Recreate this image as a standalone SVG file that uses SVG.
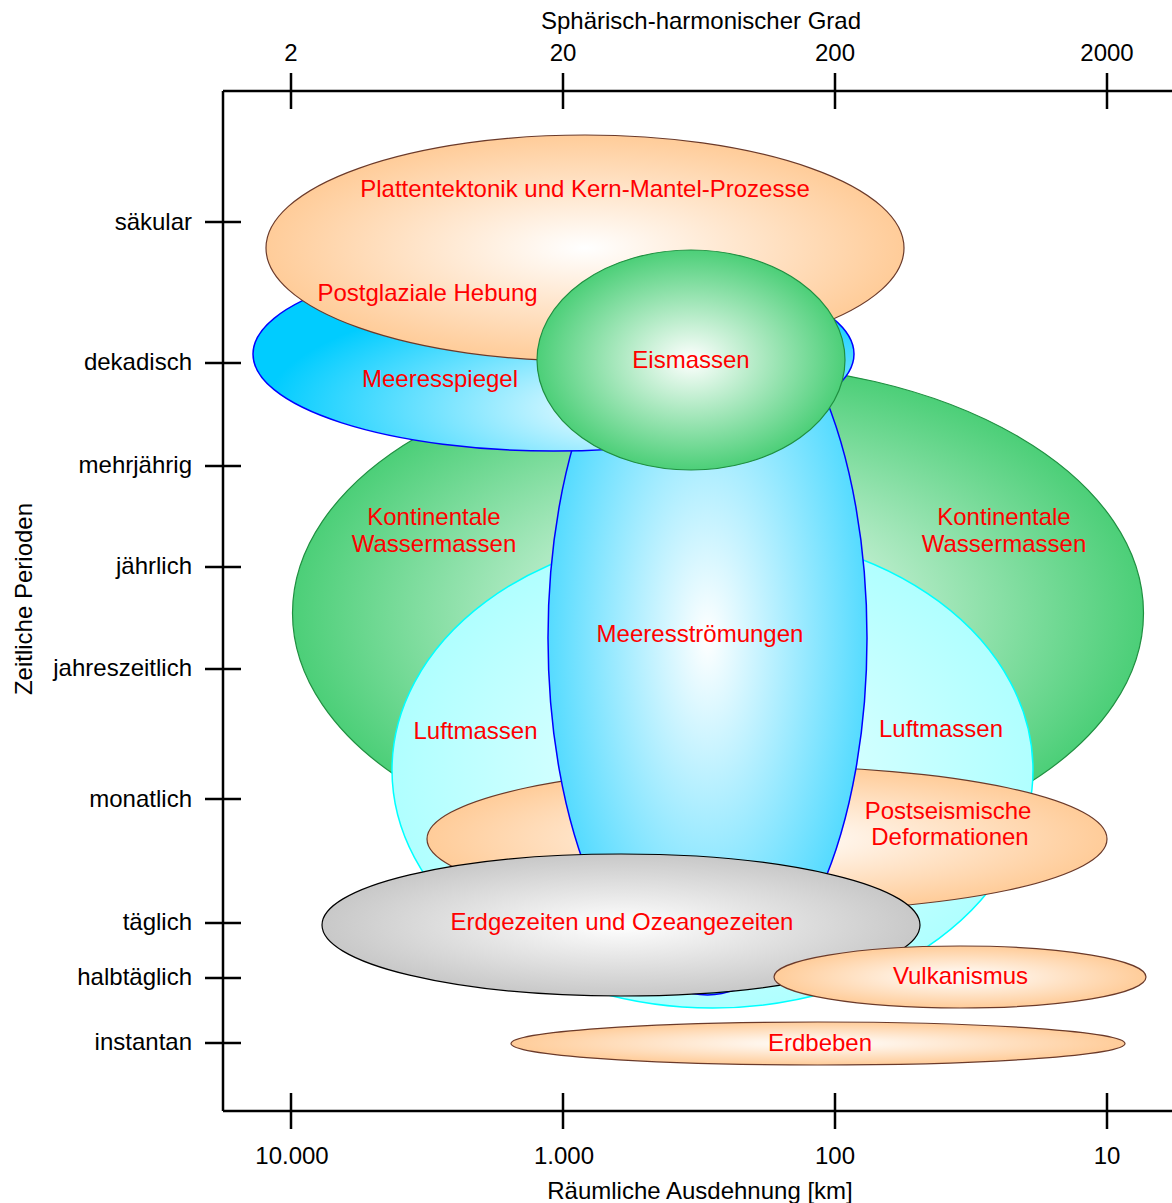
<svg xmlns="http://www.w3.org/2000/svg" width="1172" height="1203" viewBox="0 0 1172 1203">
<style>
text{font-family:"Liberation Sans",Arial,sans-serif;font-size:24px}
.ax{fill:#000}
.lb{fill:#ff0000;text-anchor:middle}
.ln{stroke:#000;stroke-width:2.5;fill:none}
.peach{stroke:#6b3a2a;stroke-width:1.2}
.blue{stroke:#0000ff;stroke-width:1.5}
.green{stroke:#1f8f40;stroke-width:1.2}
.cyan{stroke:#00ffff;stroke-width:1.5}
.gray{stroke:#000;stroke-width:1.2}
</style>
<defs>
<radialGradient id="gPeach" cx="50%" cy="50%" r="50%"><stop offset="0" stop-color="#ffffff"/><stop offset="1" stop-color="#ffcc99"/></radialGradient>
<radialGradient id="gGreen" cx="50%" cy="50%" r="50%"><stop offset="0" stop-color="#ffffff"/><stop offset="1" stop-color="#4ccf78"/></radialGradient>
<radialGradient id="gBlue" cx="50%" cy="50%" r="50%"><stop offset="0" stop-color="#ffffff"/><stop offset="1" stop-color="#55dbff"/></radialGradient>
<radialGradient id="gSea" cx="64%" cy="78%" r="62%"><stop offset="0" stop-color="#ffffff"/><stop offset="1" stop-color="#00ccff"/></radialGradient>
<radialGradient id="gCyan" cx="50%" cy="50%" r="50%"><stop offset="0" stop-color="#ecffff"/><stop offset="1" stop-color="#b0ffff"/></radialGradient>
<radialGradient id="gGray" cx="50%" cy="50%" r="50%"><stop offset="0" stop-color="#ffffff"/><stop offset="1" stop-color="#c8c8c8"/></radialGradient>
</defs>
<rect width="1172" height="1203" fill="#fff"/>
<g id="axes">
<path class="ln" d="M223,91 V1111 M223,91 H1172 M223,1111 H1172"/>
<path class="ln" d="M291,73 V109 M563,73 V109 M835,73 V109 M1107,73 V109"/>
<path class="ln" d="M291,1093 V1129 M563,1093 V1129 M835,1093 V1129 M1107,1093 V1129"/>
<path class="ln" d="M205,222 H241 M205,363 H241 M205,466 H241 M205,567 H241 M205,669 H241 M205,799 H241 M205,923 H241 M205,978 H241 M205,1043 H241"/>
<text class="ax" x="701" y="29" text-anchor="middle">Sphärisch-harmonischer Grad</text>
<text class="ax" x="291" y="61" text-anchor="middle">2</text>
<text class="ax" x="563" y="61" text-anchor="middle">20</text>
<text class="ax" x="835" y="61" text-anchor="middle">200</text>
<text class="ax" x="1107" y="61" text-anchor="middle">2000</text>
<text class="ax" x="292" y="1164" text-anchor="middle">10.000</text>
<text class="ax" x="564" y="1164" text-anchor="middle">1.000</text>
<text class="ax" x="835" y="1164" text-anchor="middle">100</text>
<text class="ax" x="1107" y="1164" text-anchor="middle">10</text>
<text class="ax" x="700" y="1199" text-anchor="middle">Räumliche Ausdehnung [km]</text>
<text class="ax" transform="translate(32,599) rotate(-90)" text-anchor="middle">Zeitliche Perioden</text>
<g text-anchor="end">
<text class="ax" x="192" y="230">säkular</text>
<text class="ax" x="192" y="370">dekadisch</text>
<text class="ax" x="192" y="473">mehrjährig</text>
<text class="ax" x="192" y="574">jährlich</text>
<text class="ax" x="192" y="676">jahreszeitlich</text>
<text class="ax" x="192" y="807">monatlich</text>
<text class="ax" x="192" y="930">täglich</text>
<text class="ax" x="192" y="985">halbtäglich</text>
<text class="ax" x="192" y="1050">instantan</text>
</g>
</g>
<g id="connectors"></g>
<g id="kontinentale"><ellipse class="green" cx="718" cy="613" rx="425.5" ry="249" fill="url(#gGreen)"/></g>
<g id="luftmassen"><ellipse class="cyan" cx="712.5" cy="770" rx="320.5" ry="238" fill="url(#gCyan)"/></g>
<g id="postseismisch"><ellipse class="peach" cx="767" cy="839" rx="340" ry="72.5" fill="url(#gPeach)"/></g>
<g id="meeresstroemungen"><ellipse class="blue" cx="707.5" cy="638" rx="159.5" ry="357" fill="url(#gBlue)"/></g>
<g id="meeresspiegel"><ellipse class="blue" cx="553.5" cy="354" rx="300.5" ry="97" fill="url(#gSea)"/></g>
<g id="plattentektonik"><ellipse class="peach" cx="585" cy="248" rx="319" ry="113" fill="url(#gPeach)"/></g>
<g id="eismassen"><ellipse class="green" cx="691" cy="360" rx="154" ry="110" fill="url(#gGreen)"/></g>
<g id="gezeiten"><ellipse class="gray" cx="621" cy="925" rx="299" ry="71" fill="url(#gGray)"/></g>
<g id="vulkanismus"><ellipse class="peach" cx="960" cy="977" rx="186" ry="31" fill="url(#gPeach)"/></g>
<g id="erdbeben"><ellipse class="peach" cx="818" cy="1043.5" rx="307" ry="21.5" fill="url(#gPeach)"/></g>
<g id="labels">
<text class="lb" x="585" y="197">Plattentektonik und Kern-Mantel-Prozesse</text>
<text class="lb" x="427.5" y="301">Postglaziale Hebung</text>
<text class="lb" x="440" y="387">Meeresspiegel</text>
<text class="lb" x="691" y="368">Eismassen</text>
<text class="lb" x="434" y="525">Kontinentale</text>
<text class="lb" x="434" y="552">Wassermassen</text>
<text class="lb" x="1004" y="525">Kontinentale</text>
<text class="lb" x="1004" y="552">Wassermassen</text>
<text class="lb" x="700" y="642">Meeresströmungen</text>
<text class="lb" x="475.5" y="739">Luftmassen</text>
<text class="lb" x="941" y="737">Luftmassen</text>
<text class="lb" x="948" y="819">Postseismische</text>
<text class="lb" x="950" y="845">Deformationen</text>
<text class="lb" x="622" y="930">Erdgezeiten und Ozeangezeiten</text>
<text class="lb" x="960.5" y="984">Vulkanismus</text>
<text class="lb" x="820" y="1051">Erdbeben</text>
</g>
</svg>
